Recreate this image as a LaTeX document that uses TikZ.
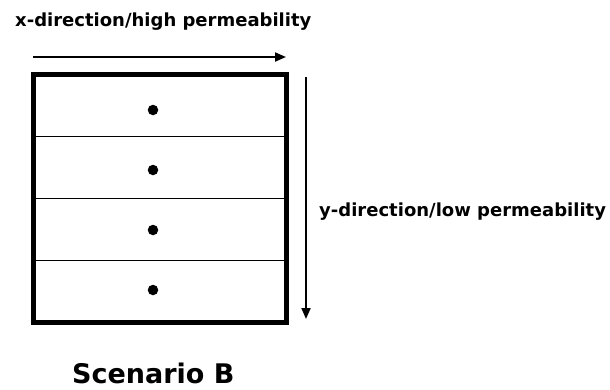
\documentclass[tikz,border=0pt]{standalone}
\usepackage{fontspec}
\setmainfont{DejaVu Sans}
\usetikzlibrary{arrows.meta}
\begin{document}
\begin{tikzpicture}[x=1pt,y=-1pt,
  lbl/.style={font=\bfseries\fontsize{18}{20}\selectfont, inner sep=0pt},
  cell/.style={draw=black, line width=1.5pt, minimum width=253pt, minimum height=62pt, inner sep=0pt, outer sep=0pt},
  dotmark/.style={circle, fill=black, inner sep=0pt, minimum size=10.5pt},
  arr/.style={line width=2pt, -{Triangle[length=11pt,width=9pt]}}]
\useasboundingbox (0,0) rectangle (610,389);
% cells
\node[cell] (c1) at (159.5,105.5) {};
\node[cell] (c2) at (159.5,167.5) {};
\node[cell] (c3) at (159.5,229.5) {};
\node[cell] (c4) at (159.5,291.5) {};
\draw[line width=5pt] (c1.north west) rectangle (c4.south east);
\node[dotmark] (d1) at (153,110) {};
\node[dotmark] (d2) at (153,170) {};
\node[dotmark] (d3) at (153,230) {};
\node[dotmark] (d4) at (153,290) {};
% arrows
\coordinate (xa) at (33,57);
\coordinate (xb) at (286,57);
\draw[arr] (xa) -- (xb);
\coordinate (ya) at (306,77);
\coordinate (yb) at (306,319);
\draw[arr] (ya) -- (yb);
% labels
\node[lbl, anchor=west] (xl) at (15,22) {x-direction/high permeability};
\node[lbl, anchor=west] (yl) at (319,212) {y-direction/low permeability};
\node[font=\bfseries\fontsize{27}{30}\selectfont, inner sep=0pt, anchor=west] (sc) at (72,373) {Scenario B};
\end{tikzpicture}
\end{document}
